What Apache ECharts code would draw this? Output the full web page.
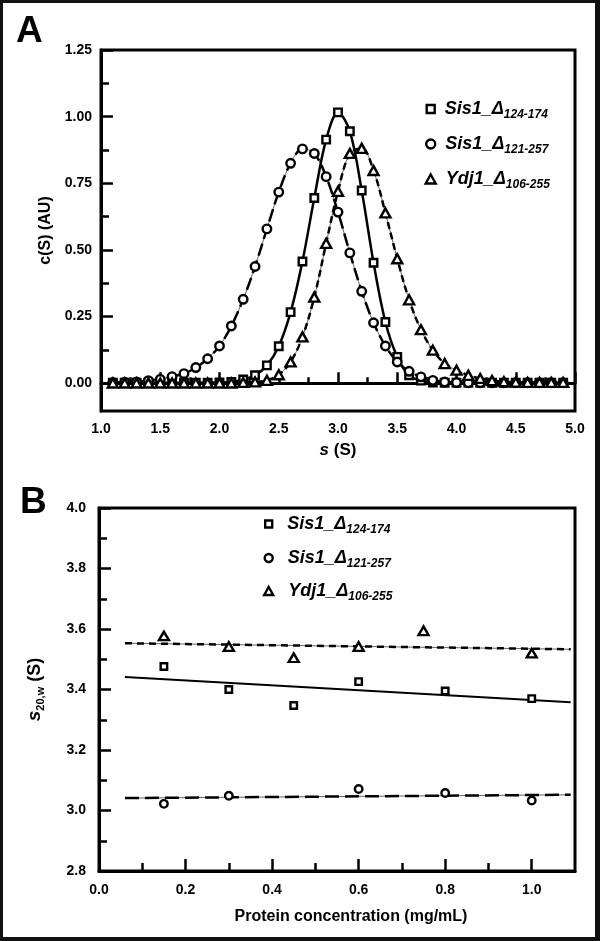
<!DOCTYPE html>
<html><head><meta charset="utf-8">
<script src="https://cdn.jsdelivr.net/npm/echarts@6/dist/echarts.min.js"></script>
<style>
html,body{margin:0;padding:0;background:#111;width:600px;height:941px;overflow:hidden}
#c{position:absolute;left:3px;top:3px;width:592px;height:934px;background:#fff}
</style>
</head><body><div id="c"></div>
<script>
// ---------- Panel A data ----------
const sValues = [1.1,1.2,1.3,1.4,1.5,1.6,1.7,1.8,1.9,2.0,2.1,2.2,2.3,2.4,2.5,2.6,2.7,2.8,2.9,3.0,3.1,3.2,3.3,3.4,3.5,3.6,3.7,3.8,3.9,4.0,4.1,4.2,4.3,4.4,4.5,4.6,4.7,4.8,4.9];
const cS_sis1_124_174 = [0.002,0.002,0.002,0.002,0.002,0.002,0.002,0.002,0.002,0.003,0.005,0.014,0.030,0.067,0.139,0.267,0.457,0.695,0.914,1.016,0.945,0.723,0.452,0.230,0.099,0.030,0.010,0.003,0.002,0.002,0.002,0.002,0.002,0.002,0.002,0.002,0.002,0.002,0.002];
const cS_sis1_121_257 = [0.003,0.004,0.005,0.010,0.015,0.025,0.036,0.059,0.092,0.140,0.215,0.315,0.438,0.579,0.717,0.825,0.879,0.862,0.775,0.642,0.489,0.345,0.227,0.140,0.080,0.045,0.024,0.011,0.005,0.003,0.002,0.002,0.002,0.002,0.002,0.002,0.002,0.002,0.002];
const cS_ydj1_106_255 = [0.001,0.001,0.001,0.001,0.001,0.001,0.001,0.001,0.001,0.001,0.001,0.003,0.005,0.011,0.032,0.080,0.174,0.323,0.525,0.720,0.862,0.881,0.798,0.639,0.467,0.313,0.201,0.124,0.074,0.049,0.030,0.018,0.010,0.006,0.004,0.003,0.003,0.003,0.003];
const yMajorA = [0,0.25,0.5,0.75,1.0,1.25];
const yMinorA = [0.125,0.375,0.625,0.875,1.125];

// ---------- Panel B data ----------
const conc_sis1_124_174 = [0.15,0.3,0.45,0.6,0.8,1.0];
const s20_sis1_124_174 = [3.476,3.400,3.347,3.426,3.395,3.370];
const conc_sis1_121_257 = [0.15,0.3,0.6,0.8,1.0];
const s20_sis1_121_257 = [3.022,3.049,3.071,3.058,3.033];
const conc_ydj1_106_255 = [0.15,0.3,0.45,0.6,0.75,1.0];
const s20_ydj1_106_255 = [3.577,3.542,3.505,3.542,3.594,3.520];
const fitConc = [0.06,1.09];
const fit_sis1_124_174 = [3.441,3.358];
const fit_sis1_121_257 = [3.041,3.052];
const fit_ydj1_106_255 = [3.553,3.533];
const xMajorB = [0.2,0.4,0.6,0.8,1.0];
const xLabelsB = [0,0.2,0.4,0.6,0.8,1.0];
const xMinorB = [0.1,0.3,0.5,0.7,0.9];

const names = ['Sis1_Δ124-174','Sis1_Δ121-257','Ydj1_Δ106-255'];
const nameParts = {'Sis1_Δ124-174':['Sis1_Δ','124-174'],'Sis1_Δ121-257':['Sis1_Δ','121-257'],'Ydj1_Δ106-255':['Ydj1_Δ','106-255']};

const FONT = '"Liberation Sans", Arial, Helvetica, sans-serif';
const K = '#000';
const pair = (xs, ys) => xs.map((x,i)=>[x, ys[i]]);

const hollowA = {color:'#fff', borderColor:K, borderWidth:2.4, opacity:1};
const hollowB = {color:'#fff', borderColor:K, borderWidth:2.4, opacity:1};
const richLegend = {
  m:{fontSize:18,fontWeight:'bold',fontStyle:'italic',fontFamily:FONT,color:K,lineHeight:24},
  sub:{fontSize:12,fontWeight:'bold',fontStyle:'italic',fontFamily:FONT,color:K,lineHeight:12,verticalAlign:'bottom'}
};
function legendAt(name, icon, left, top, w, h, pad){
  return {
    data:[{name:name, icon:icon}], orient:'vertical', left:left, top:top, padding:0,
    itemWidth:w, itemHeight:h, itemStyle:{color:'#fff',borderColor:K,borderWidth:2.4,opacity:1},
    selectedMode:false,
    formatter: n => '{m|'+nameParts[n][0]+'}{sub|'+nameParts[n][1]+'}',
    textStyle:{padding:[0,0,0,pad], rich:richLegend}
  };
}
const axisLbl = (fmt, margin) => ({fontFamily:FONT,fontWeight:'bold',fontSize:14,color:K,margin:margin,formatter:fmt});
const axLine = {show:true, lineStyle:{color:K,width:3}};

const chart = echarts.init(document.getElementById('c'), null, {renderer:'canvas'});
chart.setOption({
  backgroundColor:'#fff',
  animation:false,
  graphic:[
    {type:'text', left:13, top:10, style:{text:'A', fontFamily:FONT, fontWeight:'bold', fontSize:37, fill:K}},
    {type:'text', left:17, top:481, style:{text:'B', fontFamily:FONT, fontWeight:'bold', fontSize:37, fill:K}}
  ],
  legend:[
    legendAt(names[0],'rect',422.5,97,8,8,5),
    legendAt(names[1],'circle',422,132,9,9,5),
    legendAt(names[2],'triangle',421.5,167,10,9,5),
    legendAt(names[0],'rect',261,512,7,7,10),
    legendAt(names[1],'circle',260.5,546,8,8,10),
    legendAt(names[2],'triangle',260,579,9,8,10)
  ],
  grid:[
    {left:98, top:47, width:474, height:361, show:true, borderColor:K, borderWidth:3, backgroundColor:'transparent'},
    {left:96, top:505, width:476, height:363, show:true, borderColor:K, borderWidth:3, backgroundColor:'transparent'}
  ],
  xAxis:[
    {gridIndex:0, type:'value', min:1, max:5, interval:0.5,
     axisLine:axLine, axisTick:{inside:true,length:11,lineStyle:{color:K,width:2.5}},
     minorTick:{show:true,splitNumber:2,length:6,lineStyle:{color:K,width:2.5}},
     splitLine:{show:false}, minorSplitLine:{show:false},
     axisLabel:axisLbl(v=>v.toFixed(1),11),
     name:'{i|s}{n| (S)}', nameLocation:'middle', nameGap:31,
     nameTextStyle:{rich:{i:{fontFamily:FONT,fontSize:17,fontWeight:'bold',fontStyle:'italic',color:K},n:{fontFamily:FONT,fontSize:17,fontWeight:'bold',color:K}}}},
    {gridIndex:1, type:'value', min:0, max:1.1,
     axisLine:axLine, axisTick:{inside:true,length:12,lineStyle:{color:K,width:2.5},customValues:xMajorB},
     splitLine:{show:false},
     axisLabel:Object.assign(axisLbl(v=>v.toFixed(1),12),{customValues:xLabelsB}),
     name:'Protein concentration (mg/mL)', nameLocation:'middle', nameGap:38,
     nameTextStyle:{fontFamily:FONT,fontSize:16,fontWeight:'bold',color:K,padding:[0,0,0,28]}},
    {gridIndex:1, type:'value', min:0, max:1.1, position:'bottom',
     axisLine:{show:false}, axisTick:{inside:true,length:8,lineStyle:{color:K,width:2.5},customValues:xMinorB},
     splitLine:{show:false}, axisLabel:{show:false}}
  ],
  yAxis:[
    {gridIndex:0, type:'value', min:-0.104, max:1.25, position:'left',
     axisLine:axLine, axisTick:{inside:true,length:12,lineStyle:{color:K,width:2.5},customValues:yMajorA},
     splitLine:{show:false},
     axisLabel:Object.assign(axisLbl(v=>v.toFixed(2),9),{customValues:yMajorA}),
     name:'c(S) (AU)', nameLocation:'middle', nameGap:46,
     nameTextStyle:{fontFamily:FONT,fontSize:16,fontWeight:'bold',color:K}},
    {gridIndex:0, type:'value', min:-0.104, max:1.25, position:'left',
     axisLine:{show:false}, axisTick:{inside:true,length:8,lineStyle:{color:K,width:2.5},customValues:yMinorA},
     splitLine:{show:false}, axisLabel:{show:false}},
    {gridIndex:1, type:'value', min:2.8, max:4.0, interval:0.2, position:'left',
     axisLine:axLine, axisTick:{inside:true,length:12,lineStyle:{color:K,width:2.5}},
     minorTick:{show:true,splitNumber:2,length:8,lineStyle:{color:K,width:2.5}},
     splitLine:{show:false}, minorSplitLine:{show:false},
     axisLabel:axisLbl(v=>v.toFixed(1),13),
     name:'{i|s}{sub|20,w}{n| (S)}', nameLocation:'middle', nameGap:53,
     nameTextStyle:{rich:{
       i:{fontFamily:FONT,fontSize:19,fontWeight:'bold',fontStyle:'italic',color:K,lineHeight:22},
       sub:{fontFamily:FONT,fontSize:11,fontWeight:'bold',color:K,lineHeight:11,verticalAlign:'bottom'},
       n:{fontFamily:FONT,fontSize:18,fontWeight:'bold',color:K,lineHeight:22}}}}
  ],
  series:[
    // Panel A points (declared first so legend takes their icon)
    {name:names[0], type:'scatter', xAxisIndex:0, yAxisIndex:0, symbol:'rect', symbolSize:7.5, itemStyle:hollowA, z:5, data:pair(sValues,cS_sis1_124_174)},
    {name:names[1], type:'scatter', xAxisIndex:0, yAxisIndex:0, symbol:'circle', symbolSize:8.5, itemStyle:hollowA, z:5, data:pair(sValues,cS_sis1_121_257)},
    {name:names[2], type:'scatter', xAxisIndex:0, yAxisIndex:0, symbol:'triangle', symbolSize:[10,9], itemStyle:hollowA, z:5, data:pair(sValues,cS_ydj1_106_255)},
    // Panel A fit curves
    {name:'fitA1', type:'line', xAxisIndex:0, yAxisIndex:0, smooth:0.35, showSymbol:false, z:3, lineStyle:{color:K,width:2.5}, data:pair(sValues,cS_sis1_124_174)},
    {name:'fitA2t', type:'line', xAxisIndex:0, yAxisIndex:0, smooth:0.35, showSymbol:false, z:2, lineStyle:{color:'#666',width:1}, data:pair(sValues,cS_sis1_121_257)},
    {name:'fitA2', type:'line', xAxisIndex:0, yAxisIndex:0, smooth:0.35, showSymbol:false, z:3, lineStyle:{color:K,width:2.5,type:[13,5]}, data:pair(sValues,cS_sis1_121_257)},
    {name:'fitA3t', type:'line', xAxisIndex:0, yAxisIndex:0, smooth:0.35, showSymbol:false, z:2, lineStyle:{color:'#666',width:1}, data:pair(sValues,cS_ydj1_106_255)},
    {name:'fitA3', type:'line', xAxisIndex:0, yAxisIndex:0, smooth:0.35, showSymbol:false, z:3, lineStyle:{color:K,width:2.5,type:[7,4]}, data:pair(sValues,cS_ydj1_106_255)},
    // Panel B fits
    {name:'fitB1', type:'line', xAxisIndex:1, yAxisIndex:2, showSymbol:false, z:3, lineStyle:{color:K,width:2}, data:pair(fitConc,fit_sis1_124_174)},
    {name:'fitB2t', type:'line', xAxisIndex:1, yAxisIndex:2, showSymbol:false, z:2, lineStyle:{color:'#666',width:1}, data:pair(fitConc,fit_sis1_121_257)},
    {name:'fitB2', type:'line', xAxisIndex:1, yAxisIndex:2, showSymbol:false, z:3, lineStyle:{color:K,width:2.5,type:[14,6]}, data:pair(fitConc,fit_sis1_121_257)},
    {name:'fitB3t', type:'line', xAxisIndex:1, yAxisIndex:2, showSymbol:false, z:2, lineStyle:{color:'#666',width:1}, data:pair(fitConc,fit_ydj1_106_255)},
    {name:'fitB3', type:'line', xAxisIndex:1, yAxisIndex:2, showSymbol:false, z:3, lineStyle:{color:K,width:2.5,type:[7,5]}, data:pair(fitConc,fit_ydj1_106_255)},
    // Panel B points
    {name:names[0], type:'scatter', xAxisIndex:1, yAxisIndex:2, symbol:'rect', symbolSize:6.5, itemStyle:hollowB, z:5, data:pair(conc_sis1_124_174,s20_sis1_124_174)},
    {name:names[1], type:'scatter', xAxisIndex:1, yAxisIndex:2, symbol:'circle', symbolSize:7.5, itemStyle:hollowB, z:5, data:pair(conc_sis1_121_257,s20_sis1_121_257)},
    {name:names[2], type:'scatter', xAxisIndex:1, yAxisIndex:2, symbol:'triangle', symbolSize:[10,8.5], itemStyle:hollowB, z:5, data:pair(conc_ydj1_106_255,s20_ydj1_106_255)}
  ]
});
</script>
</body></html>
